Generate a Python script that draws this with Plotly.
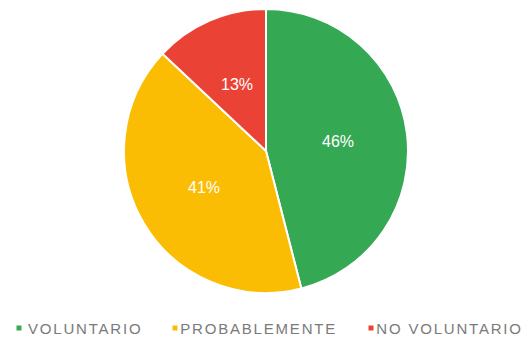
import math
import plotly.graph_objects as go

labels = ["VOLUNTARIO", "PROBABLEMENTE", "NO VOLUNTARIO"]
values = [46, 41, 13]
colors = ["#34a853", "#fbbc04", "#ea4335"]

W, H = 531, 341

# pie placement (pixels)
cx_px, cy_px, radius_px = 266, 151, 142
cx = cx_px / W
cy = 1 - cy_px / H
dom_x = [cx - radius_px / W, cx + radius_px / W]
dom_y = [cy - radius_px / H, cy + radius_px / H]

fig = go.Figure(go.Pie(
    labels=labels,
    values=values,
    sort=False,
    direction="clockwise",
    rotation=0,
    marker=dict(colors=colors, line=dict(color="white", width=2)),
    textinfo="none",
    domain=dict(x=dom_x, y=dom_y),
    hoverinfo="skip",
    showlegend=False,
))

# percentage labels along each slice's bisector, halfway out
total = sum(values)
label_r = 0.51 * radius_px
annotations = []
start = 0.0
for v in values:
    mid = (start + v / 2) / total * 2 * math.pi
    start += v
    annotations.append(dict(
        x=cx, y=cy, xref="paper", yref="paper",
        xshift=label_r * math.sin(mid), yshift=label_r * math.cos(mid),
        text=f"{round(v / total * 100)}%", showarrow=False,
        font=dict(family="Liberation Sans", size=16, color="white"),
    ))

# legend row below the pie
legend_centers_px = [85, 258, 449.5]
legend_marker_px = [19, 175, 371]
legend_y_px = 328
shapes = []
for lab, col, xc, xm in zip(labels, colors, legend_centers_px, legend_marker_px):
    annotations.append(dict(
        x=xc / W, y=1 - legend_y_px / H, xref="paper", yref="paper",
        xanchor="center", yanchor="middle",
        text=lab, showarrow=False,
        font=dict(family="Liberation Sans", size=15, color="#7a7a7a"),
    ))
    shapes.append(dict(
        type="rect", xref="paper", yref="paper",
        xsizemode="pixel", ysizemode="pixel",
        xanchor=xm / W, yanchor=1 - legend_y_px / H,
        x0=-2.5, x1=2.5, y0=-2.5, y1=2.5,
        fillcolor=col, line=dict(width=0),
    ))

fig.update_layout(
    width=W, height=H,
    margin=dict(l=0, r=0, t=0, b=0),
    paper_bgcolor="white",
    annotations=annotations,
    shapes=shapes,
)

spacing_js = """
var gd = document.getElementById('{plot_id}');
function spaceLegend() {
  gd.querySelectorAll('.annotation').forEach(function (a) {
    if (+a.getAttribute('data-index') >= 3) {
      a.querySelectorAll('text').forEach(function (t) { t.style.letterSpacing = '1.8px'; });
    }
  });
}
spaceLegend();
setTimeout(spaceLegend, 50);
gd.on('plotly_afterplot', spaceLegend);
"""

fig.write_html("out.html", post_script=spacing_js)
